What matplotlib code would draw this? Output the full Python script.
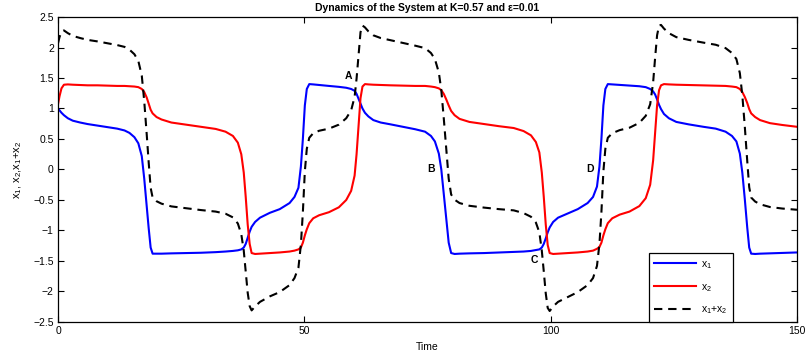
import numpy as np
import matplotlib
matplotlib.use('Agg')
import matplotlib.pyplot as plt

plt.rcParams['font.family'] = ['Liberation Sans', 'DejaVu Sans']
plt.rcParams['mathtext.default'] = 'regular'

# time samples (denser around the jumps)
t = [0, 0.3, 0.7, 1.2, 2.0, 3.0, 4.5, 6.0, 8.0, 10.0, 12.0, 13.5, 14.5, 15.5, 16.3,
     17.0, 17.5, 18.0, 18.4, 18.8, 19.2, 20.0, 21.0, 23.0, 26.0, 29.0, 32.0, 34.0,
     35.5, 36.5, 37.2, 37.7, 38.1, 38.5, 38.9, 39.3, 40.0, 41.0, 43.0, 45.0, 47.0,
     48.0, 48.8, 49.3, 49.7, 50.1, 50.5, 51.0, 51.8, 53.0, 55.0, 57.0, 58.5, 59.5,
     60.2, 60.6, 61.0, 61.4, 61.8, 62.3, 63.0, 64.0, 65.5, 67.5, 70.0, 72.5, 74.5,
     75.7, 76.5, 77.3, 77.8, 78.3, 78.8, 79.3, 79.8, 80.5, 81.5, 83.5, 86.5, 89.5,
     92.5, 94.5, 96.0, 97.0, 97.7, 98.2, 98.6, 99.0, 99.4, 99.8, 100.5, 101.5,
     103.5, 105.5, 107.5, 108.6, 109.4, 109.9, 110.3, 110.7, 111.1, 111.6, 112.5,
     114.0, 116.0, 118.0, 119.3, 120.2, 120.8, 121.2, 121.6, 122.0, 122.4, 123.0,
     124.0, 125.5, 128.0, 131.0, 133.5, 135.5, 136.8, 137.7, 138.4, 138.9, 139.4,
     139.9, 140.3, 140.7, 141.5, 142.5, 144.5, 147.0, 150.0]

x1 = [1.00, 0.97, 0.93, 0.89, 0.84, 0.80, 0.77, 0.745, 0.72, 0.695, 0.67, 0.64, 0.60,
      0.53, 0.43, 0.22, -0.15, -0.60, -0.96, -1.28, -1.38, -1.38, -1.38, -1.375,
      -1.37, -1.365, -1.355, -1.345, -1.335, -1.325, -1.31, -1.28, -1.22, -1.12,
      -1.02, -0.94, -0.86, -0.79, -0.71, -0.65, -0.55, -0.45, -0.30, 0.05, 0.50,
      1.05, 1.32, 1.40, 1.395, 1.385, 1.37, 1.355, 1.34, 1.32, 1.29, 1.24, 1.16,
      1.08, 1.00, 0.93, 0.87, 0.81, 0.77, 0.74, 0.70, 0.66, 0.62, 0.55, 0.46, 0.26,
      0.0, -0.40, -0.80, -1.20, -1.37, -1.385, -1.38, -1.375, -1.37, -1.36, -1.35,
      -1.345, -1.335, -1.32, -1.31, -1.28, -1.22, -1.13, -1.03, -0.95, -0.86, -0.79,
      -0.72, -0.65, -0.55, -0.45, -0.28, 0.05, 0.50, 1.05, 1.32, 1.40, 1.395, 1.385,
      1.375, 1.365, 1.35, 1.32, 1.28, 1.23, 1.15, 1.06, 0.99, 0.91, 0.84, 0.78, 0.74,
      0.70, 0.67, 0.62, 0.55, 0.46, 0.26, -0.05, -0.48, -0.95, -1.28, -1.38, -1.385,
      -1.38, -1.375, -1.37, -1.36]

x2 = [1.07, 1.20, 1.33, 1.39, 1.395, 1.39, 1.385, 1.38, 1.38, 1.375, 1.37, 1.37, 1.365,
      1.36, 1.35, 1.32, 1.27, 1.18, 1.08, 0.98, 0.92, 0.86, 0.82, 0.77, 0.735, 0.70,
      0.665, 0.62, 0.55, 0.44, 0.25, -0.05, -0.45, -0.90, -1.22, -1.37, -1.385,
      -1.38, -1.37, -1.36, -1.345, -1.33, -1.31, -1.28, -1.20, -1.08, -0.98, -0.88,
      -0.80, -0.75, -0.70, -0.62, -0.50, -0.35, -0.10, 0.25, 0.70, 1.17, 1.36, 1.40,
      1.395, 1.39, 1.385, 1.38, 1.375, 1.37, 1.37, 1.36, 1.35, 1.33, 1.30, 1.24,
      1.15, 1.05, 0.96, 0.89, 0.83, 0.78, 0.745, 0.71, 0.68, 0.63, 0.56, 0.45, 0.28,
      -0.05, -0.45, -0.90, -1.24, -1.37, -1.385, -1.38, -1.37, -1.36, -1.345, -1.33,
      -1.30, -1.27, -1.20, -1.08, -0.98, -0.88, -0.80, -0.74, -0.69, -0.60, -0.47,
      -0.25, 0.15, 0.60, 1.05, 1.30, 1.38, 1.40, 1.395, 1.39, 1.385, 1.38, 1.375,
      1.37, 1.36, 1.35, 1.32, 1.27, 1.19, 1.09, 0.99, 0.92, 0.86, 0.81, 0.76, 0.73,
      0.70]

labels = ['A', 'B', 'C', 'D']
label_t = [58.9, 75.8, 96.7, 108.0]
label_y = [1.53, 0.01, -1.48, 0.01]

t = np.array(t)
x1 = np.array(x1)
x2 = np.array(x2)

fig = plt.figure(figsize=(8.07, 3.58), dpi=100)
ax = fig.add_axes([0.0719, 0.1006, 0.9157, 0.8519])

ax.plot(t, x1, color='#0000ff', lw=1.5, label='x$_1$')
ax.plot(t, x2, color='#ff0000', lw=1.5, label='x$_2$')
ax.plot(t, x1 + x2, color='black', lw=1.5, dashes=(4, 2.8), label='x$_1$+x$_2$')

for s, tx, ty in zip(labels, label_t, label_y):
    ax.text(tx, ty, s, fontsize=7.5, fontweight='bold', ha='center', va='center')

ax.set_xlim(0, 150)
ax.set_ylim(-2.5, 2.5)
ax.set_xticks([0, 50, 100, 150])
ax.set_yticks(np.arange(-2.5, 2.51, 0.5))
ax.set_yticklabels(['\u22122.5', '\u22122', '\u22121.5', '\u22121', '\u22120.5', '0',
                    '0.5', '1', '1.5', '2', '2.5'])
ax.tick_params(direction='in', top=True, right=True, length=4, width=0.8,
               labelsize=7.5, pad=3)
for sp in ax.spines.values():
    sp.set_linewidth(0.9)

ax.set_title('Dynamics of the System at K=0.57 and \u03b5=0.01', fontsize=7.5,
             fontweight='bold', pad=4)
ax.set_xlabel('Time', fontsize=7.5, labelpad=4)
ax.set_ylabel('x$_1$, x$_2$,x$_1$+x$_2$', fontsize=8, labelpad=7)

leg = ax.legend(loc='lower right', bbox_to_anchor=(0.914, 0.0), borderaxespad=0,
                fancybox=False, edgecolor='black', framealpha=1, fontsize=7.5,
                handlelength=4.0, labelspacing=1.05, borderpad=0.55, handletextpad=0.5)
leg.get_frame().set_linewidth(0.9)

fig.savefig('out.png', dpi=100)
